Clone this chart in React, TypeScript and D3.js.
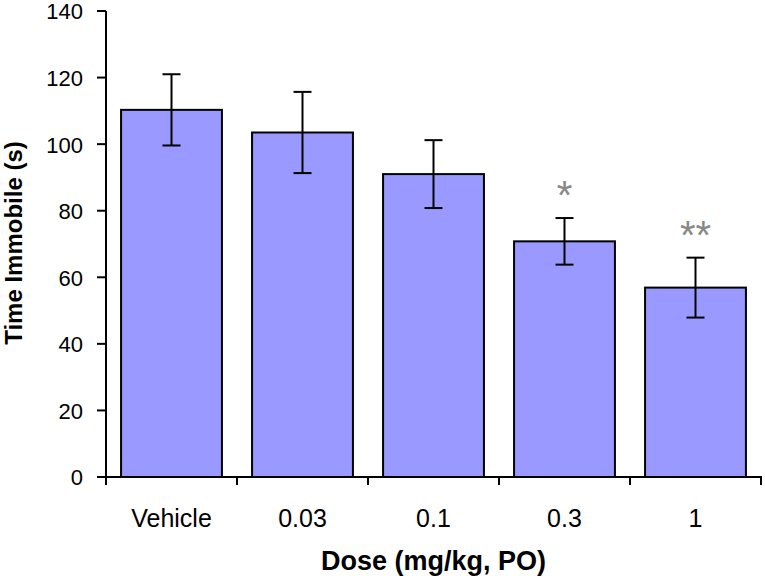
import React from "react";
import * as d3 from "d3";

const categories = ["Vehicle", "0.03", "0.1", "0.3", "1"];
const means = [110.3, 103.5, 91.0, 70.8, 56.9];
const errors = [10.7, 12.2, 10.2, 7.0, 9.0];
const significance = ["", "", "", "*", "**"];
const yTicks = [0, 20, 40, 60, 80, 100, 120, 140];

const W = 765;
const H = 578;
const M = { left: 106, right: 761, top: 11, bottom: 477 };

export default function App() {
  const x = d3.scaleBand<string>().domain(categories).range([M.left, M.right]).padding(0);
  const y = d3.scaleLinear().domain([0, 140]).range([M.bottom, M.top]);
  const barW = x.bandwidth() * 0.77;
  const capW = 18;
  const font = "'Liberation Sans', Arial, sans-serif";
  const boundaries = [...categories.map((c) => x(c) as number), M.right];

  return (
    <div style={{ position: "absolute", left: 0, top: 0 }}>
      <svg width={W} height={H} style={{ display: "block", background: "#fff" }}>
        {/* bars */}
        {categories.map((c, i) => {
          const cx = (x(c) as number) + x.bandwidth() / 2;
          return (
            <rect
              key={c}
              x={cx - barW / 2}
              y={y(means[i])}
              width={barW}
              height={y(0) - y(means[i])}
              fill="#9999FF"
              stroke="#000"
              strokeWidth={2}
            />
          );
        })}
        {/* error bars */}
        {categories.map((c, i) => {
          const cx = (x(c) as number) + x.bandwidth() / 2;
          const top = y(means[i] + errors[i]);
          const bot = y(means[i] - errors[i]);
          return (
            <g key={"e" + c} stroke="#000" strokeWidth={2}>
              <line x1={cx} x2={cx} y1={top} y2={bot} />
              <line x1={cx - capW / 2} x2={cx + capW / 2} y1={top} y2={top} />
              <line x1={cx - capW / 2} x2={cx + capW / 2} y1={bot} y2={bot} />
            </g>
          );
        })}
        {/* significance */}
        {categories.map((c, i) =>
          significance[i] ? (
            <text
              key={"s" + c}
              x={(x(c) as number) + x.bandwidth() / 2}
              y={y(means[i] + errors[i]) - 9}
              textAnchor="middle"
              fontFamily={font}
              fontSize={40}
              fill="#888"
            >
              {significance[i]}
            </text>
          ) : null
        )}
        {/* y axis */}
        <line x1={M.left} x2={M.left} y1={M.top} y2={M.bottom} stroke="#000" strokeWidth={2} />
        {yTicks.map((t) => (
          <g key={"y" + t}>
            <line x1={M.left - 9} x2={M.left} y1={y(t)} y2={y(t)} stroke="#000" strokeWidth={2} />
            <text
              x={M.left - 23}
              y={y(t)}
              dy="0.38em"
              textAnchor="end"
              fontFamily={font}
              fontSize={22}
              fill="#000"
            >
              {t}
            </text>
          </g>
        ))}
        {/* x axis */}
        <line x1={M.left - 9} x2={M.right + 1} y1={M.bottom} y2={M.bottom} stroke="#000" strokeWidth={2} />
        {boundaries.map((b, i) => (
          <line key={"xt" + i} x1={b} x2={b} y1={M.bottom} y2={M.bottom + 8} stroke="#000" strokeWidth={2} />
        ))}
        {categories.map((c) => (
          <text
            key={"xl" + c}
            x={(x(c) as number) + x.bandwidth() / 2}
            y={527}
            textAnchor="middle"
            fontFamily={font}
            fontSize={25}
            fill="#000"
          >
            {c}
          </text>
        ))}
        {/* axis titles */}
        <text
          x={(M.left + M.right) / 2}
          y={570}
          textAnchor="middle"
          fontFamily={font}
          fontSize={27}
          fontWeight="bold"
          fill="#000"
        >
          Dose (mg/kg, PO)
        </text>
        <text
          transform={`translate(22, 243) rotate(-90)`}
          textAnchor="middle"
          fontFamily={font}
          fontSize={24}
          fontWeight="bold"
          fill="#000"
        >
          Time Immobile (s)
        </text>
      </svg>
    </div>
  );
}
